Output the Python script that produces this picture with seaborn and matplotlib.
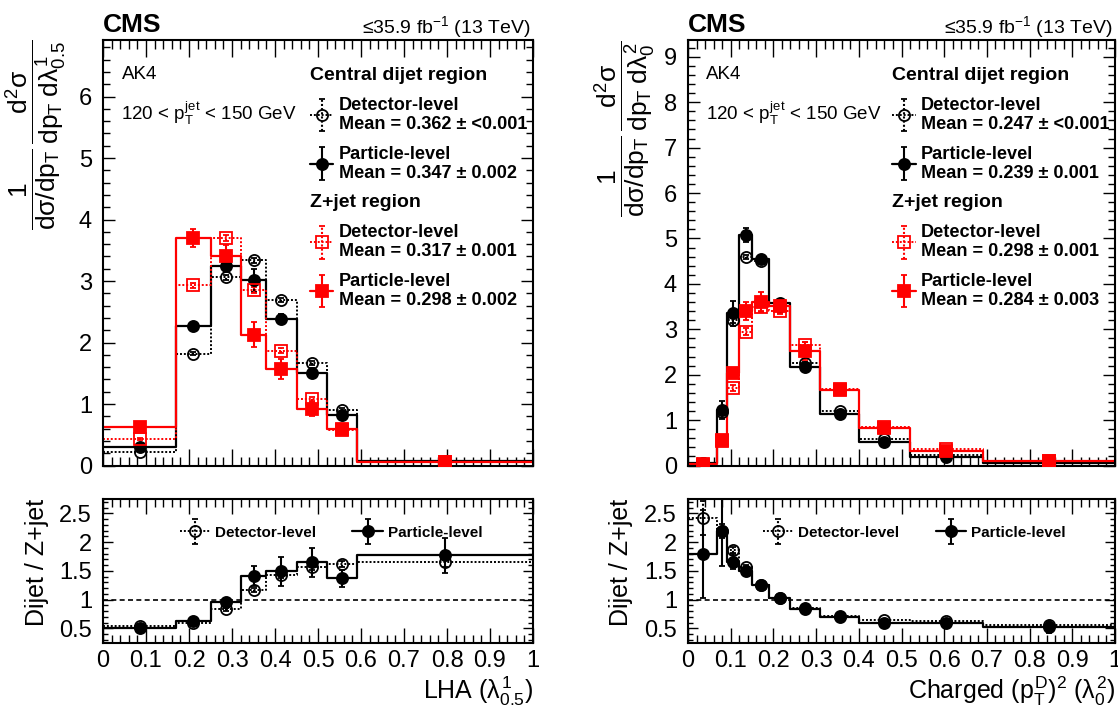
import numpy as np
import matplotlib
matplotlib.use("Agg")
import matplotlib.pyplot as plt
import seaborn as sns
from matplotlib.ticker import MultipleLocator, FuncFormatter
from matplotlib.legend_handler import HandlerErrorbar, HandlerTuple
from matplotlib.container import ErrorbarContainer

# ------------------------------------------------------------------ data
# LHA (lambda^1_0.5)
lha_edges = [0.0, 0.17, 0.25, 0.32, 0.38, 0.45, 0.52, 0.59, 1.0]
lha_dijet_det = [0.225, 1.82, 3.06, 3.34, 2.69, 1.67, 0.91, 0.08]
lha_dijet_det_err = [0.01, 0.03, 0.04, 0.04, 0.03, 0.03, 0.02, 0.005]
lha_dijet_part = [0.306, 2.27, 3.24, 3.01, 2.38, 1.51, 0.82, 0.07]
lha_dijet_part_err = [0.02, 0.05, 0.10, 0.19, 0.08, 0.08, 0.04, 0.01]
lha_z_det = [0.43, 2.93, 3.70, 2.85, 1.87, 1.08, 0.58, 0.06]
lha_z_det_err = [0.02, 0.04, 0.05, 0.05, 0.04, 0.03, 0.02, 0.005]
lha_z_part = [0.62, 3.70, 3.41, 2.13, 1.57, 0.92, 0.59, 0.05]
lha_z_part_err = [0.03, 0.15, 0.18, 0.20, 0.17, 0.12, 0.06, 0.01]
lha_ratio_det = [0.54, 0.60, 0.83, 1.17, 1.42, 1.57, 1.62, 1.66]
lha_ratio_det_err = [0.02, 0.02, 0.03, 0.04, 0.05, 0.06, 0.05, 0.10]
lha_ratio_part = [0.51, 0.62, 0.95, 1.41, 1.49, 1.65, 1.37, 1.77]
lha_ratio_part_err = [0.03, 0.04, 0.06, 0.18, 0.25, 0.25, 0.15, 0.30]
lha_means = ["Mean = 0.362 \u00b1 <0.001", "Mean = 0.347 \u00b1 0.002",
             "Mean = 0.317 \u00b1 0.001", "Mean = 0.298 \u00b1 0.002"]

# Charged (pTD)^2 (lambda^2_0)
ptd_edges = [0.0, 0.068, 0.092, 0.12, 0.15, 0.19, 0.24, 0.31, 0.40, 0.52, 0.69, 1.0]
ptd_dijet_det = [0.05, 1.18, 3.20, 4.59, 4.51, 3.51, 2.25, 1.21, 0.58, 0.23, 0.06]
ptd_dijet_det_err = [0.01, 0.05, 0.06, 0.05, 0.04, 0.03, 0.02, 0.02, 0.01, 0.01, 0.005]
ptd_dijet_part = [0.055, 1.22, 3.35, 5.08, 4.54, 3.57, 2.16, 1.13, 0.51, 0.19, 0.05]
ptd_dijet_part_err = [0.02, 0.20, 0.27, 0.15, 0.08, 0.10, 0.05, 0.04, 0.02, 0.01, 0.01]
ptd_z_det = [0.02, 0.55, 1.71, 2.95, 3.50, 3.41, 2.65, 1.68, 0.85, 0.36, 0.10]
ptd_z_det_err = [0.01, 0.04, 0.06, 0.08, 0.10, 0.08, 0.07, 0.04, 0.03, 0.01, 0.005]
ptd_z_part = [0.03, 0.56, 2.04, 3.40, 3.61, 3.51, 2.53, 1.66, 0.83, 0.33, 0.09]
ptd_z_part_err = [0.01, 0.06, 0.10, 0.20, 0.22, 0.15, 0.20, 0.08, 0.05, 0.02, 0.01]
ptd_ratio_det = [2.42, 2.20, 1.86, 1.57, 1.26, 1.03, 0.86, 0.71, 0.64, 0.62, 0.55]
ptd_ratio_det_err = [0.30, 0.12, 0.05, 0.03, 0.02, 0.02, 0.02, 0.02, 0.02, 0.02, 0.05]
ptd_ratio_part = [1.79, 2.19, 1.66, 1.49, 1.26, 1.03, 0.84, 0.69, 0.60, 0.60, 0.52]
ptd_ratio_part_err = [0.77, 0.60, 0.13, 0.06, 0.04, 0.03, 0.03, 0.03, 0.03, 0.04, 0.10]
ptd_means = ["Mean = 0.247 \u00b1 <0.001", "Mean = 0.239 \u00b1 0.001",
             "Mean = 0.298 \u00b1 0.001", "Mean = 0.284 \u00b1 0.003"]

# ------------------------------------------------------------------ style
sns.set_theme(style="ticks")
plt.rcParams.update({
    "mathtext.fontset": "custom",
    "mathtext.rm": "Liberation Sans",
    "mathtext.it": "Liberation Sans",
    "mathtext.sf": "Liberation Sans",
    "mathtext.bf": "Liberation Sans:bold",
    "axes.linewidth": 1.5,
    "axes.edgecolor": "black",
    "xtick.color": "black",
    "ytick.color": "black",
    "axes.labelcolor": "black",
    "text.color": "black",
})
plt.rcParams["font.family"] = ["Liberation Sans", "DejaVu Sans"]

W, H = 1118, 706
fig = plt.figure(figsize=(W / 100, H / 100), dpi=100)
fig.patch.set_facecolor("white")


def box(x0, x1, ytop, ybot):
    return [x0 / W, 1 - ybot / H, (x1 - x0) / W, (ybot - ytop) / H]


axL = fig.add_axes(box(103, 533, 40, 465.5))
axLr = fig.add_axes(box(103, 533, 499, 642.7))
axR = fig.add_axes(box(688, 1115, 40, 465.5))
axRr = fig.add_axes(box(688, 1115, 499, 642.7))

RED = "#ff0000"
BLK = "black"
DOT = (0, (1.0, 1.0))
fmt_g = FuncFormatter(lambda v, p: f"{v:g}")


def draw_series(ax, edges, vals, errs, color, dotted, marker, filled, ms):
    edges = np.asarray(edges, float)
    vals = np.asarray(vals, float)
    centers = 0.5 * (edges[:-1] + edges[1:])
    sns.lineplot(x=edges, y=np.append(vals, vals[-1]), drawstyle="steps-post",
                 color=color, linestyle=DOT if dotted else "-",
                 linewidth=1.4 if dotted else 1.6,
                 ax=ax, legend=False, estimator=None, sort=False, zorder=2)
    line = ax.lines[-1]
    eb = ax.errorbar(centers, vals, yerr=errs, fmt=marker, color=color,
                     mfc=color if filled else "none", mec=color, mew=1.3, ms=ms,
                     elinewidth=1.5, capsize=2.5, capthick=1.2, zorder=4)
    if dotted:
        for c in eb.lines[2]:
            c.set_linestyle(DOT)
    return (line, eb)


def style_axes(ax, ratio):
    ax.set_xlim(0, 1)
    ax.xaxis.set_major_locator(MultipleLocator(0.1))
    ax.xaxis.set_minor_locator(MultipleLocator(0.02))
    ax.tick_params(which="both", direction="in", top=True, right=True,
                   labelsize=17, width=1.0, colors="black")
    if ratio:
        ax.yaxis.set_major_locator(MultipleLocator(0.5))
        ax.yaxis.set_minor_locator(MultipleLocator(0.1))
        ax.tick_params(axis="x", which="major", length=11, pad=5)
        ax.tick_params(axis="x", which="minor", length=5.5)
        ax.tick_params(axis="y", which="major", length=7, pad=8)
        ax.tick_params(axis="y", which="minor", length=3.5)
    else:
        ax.yaxis.set_major_locator(MultipleLocator(1))
        ax.yaxis.set_minor_locator(MultipleLocator(0.2))
        ax.tick_params(axis="x", which="major", length=12, labelbottom=False)
        ax.tick_params(axis="x", which="minor", length=6.5)
        ax.tick_params(axis="y", which="major", length=8.5, pad=8)
        ax.tick_params(axis="y", which="minor", length=5)
    ax.xaxis.set_major_formatter(fmt_g)
    ax.yaxis.set_major_formatter(fmt_g)
    for s in ax.spines.values():
        s.set_linewidth(1.5)
        s.set_color("black")


hmap_main = {ErrorbarContainer: HandlerErrorbar(xerr_size=0.5, yerr_size=0.9),
             tuple: HandlerTuple(ndivide=1, pad=0)}
hmap_ratio = {ErrorbarContainer: HandlerErrorbar(xerr_size=0.5, yerr_size=0.8),
              tuple: HandlerTuple(ndivide=1, pad=0)}


def main_panel(ax, edges, dd, dde, dp, dpe, zd, zde, zp, zpe, means, ylim,
               ylabel, leg_x):
    h1 = draw_series(ax, edges, dd, dde, BLK, True, "o", False, 8)
    h2 = draw_series(ax, edges, dp, dpe, BLK, False, "o", True, 8)
    h3 = draw_series(ax, edges, zd, zde, RED, True, "s", False, 8)
    h4 = draw_series(ax, edges, zp, zpe, RED, False, "s", True, 9)
    ax.set_ylim(*ylim)
    style_axes(ax, False)
    common = dict(loc="upper left", frameon=False, borderpad=0, borderaxespad=0,
                  prop={"weight": "bold", "size": 13.1},
                  title_fontproperties={"weight": "bold", "size": 14},
                  handlelength=1.3, handletextpad=0.3, labelspacing=0.72,
                  handler_map=hmap_main)
    leg1 = ax.legend(handles=[h1, h2],
                     labels=["Detector-level\n" + means[0], "Particle-level\n" + means[1]],
                     title="Central dijet region", bbox_to_anchor=(leg_x, 0.937), **common)
    leg1._legend_box.align = "left"
    for t in leg1.get_texts():
        t.set_linespacing(1.14)
    ax.add_artist(leg1)
    leg2 = ax.legend(handles=[h3, h4],
                     labels=["Detector-level\n" + means[2], "Particle-level\n" + means[3]],
                     title="Z+jet region", bbox_to_anchor=(leg_x, 0.638), **common)
    leg2._legend_box.align = "left"
    for t in leg2.get_texts():
        t.set_linespacing(1.14)
    ax.text(0.043, 0.920, "AK4", transform=ax.transAxes, fontsize=13.5,
            ha="left", va="center")
    ax.text(0.043, 0.828, r"120 < $p_{\mathrm{T}}^{\mathrm{jet}}$ < 150 GeV",
            transform=ax.transAxes, fontsize=13.5, ha="left", va="center")
    ax.text(0.0, 1.019, "CMS", transform=ax.transAxes, fontsize=19,
            fontweight="bold", ha="left", va="baseline")
    ax.text(0.995, 1.017, "\u2264" + r"35.9 fb$^{-1}$ (13 TeV)", transform=ax.transAxes,
            fontsize=14, ha="right", va="baseline")
    ax.set_ylabel(ylabel, fontsize=19, loc="top")
    ax.set_xlabel("")


def ratio_panel(ax, edges, rd, rde, rp, rpe, xlabel):
    ax.axhline(1.0, color="black", lw=1.2, ls=(0, (3, 2)), zorder=1)
    h1 = draw_series(ax, edges, rd, rde, BLK, True, "o", False, 8)
    h2 = draw_series(ax, edges, rp, rpe, BLK, False, "o", True, 8)
    ax.set_ylim(0.25, 2.75)
    style_axes(ax, True)
    ax.legend(handles=[h1, h2], labels=["Detector-level", "Particle-level"],
              loc="center", bbox_to_anchor=(0.53, 0.765), ncol=2, frameon=False,
              prop={"weight": "bold", "size": 11}, handlelength=2.0,
              handletextpad=0.3, columnspacing=2.4, borderpad=0,
              handler_map=hmap_ratio)
    ax.set_ylabel("Dijet / Z+jet", fontsize=18, loc="top")
    ax.set_xlabel(xlabel, fontsize=18, loc="right")


main_panel(axL, lha_edges, lha_dijet_det, lha_dijet_det_err, lha_dijet_part,
           lha_dijet_part_err, lha_z_det, lha_z_det_err, lha_z_part, lha_z_part_err,
           lha_means, (0, 6.92),
           r"$\dfrac{1}{\mathrm{d}\sigma/\mathrm{d}p_{\mathrm{T}}}\,"
           r"\dfrac{\mathrm{d}^{2}\sigma}{\mathrm{d}p_{\mathrm{T}}\;\mathrm{d}\lambda^{1}_{0.5}}$",
           0.481)
main_panel(axR, ptd_edges, ptd_dijet_det, ptd_dijet_det_err, ptd_dijet_part,
           ptd_dijet_part_err, ptd_z_det, ptd_z_det_err, ptd_z_part, ptd_z_part_err,
           ptd_means, (0, 9.37),
           r"$\dfrac{1}{\mathrm{d}\sigma/\mathrm{d}p_{\mathrm{T}}}\,"
           r"\dfrac{\mathrm{d}^{2}\sigma}{\mathrm{d}p_{\mathrm{T}}\;\mathrm{d}\lambda^{2}_{0}}$",
           0.478)
ratio_panel(axLr, lha_edges, lha_ratio_det, lha_ratio_det_err, lha_ratio_part,
            lha_ratio_part_err, r"LHA ($\lambda^{1}_{0.5}$)")
ratio_panel(axRr, ptd_edges, ptd_ratio_det, ptd_ratio_det_err, ptd_ratio_part,
            ptd_ratio_part_err,
            r"Charged ($p_{\mathrm{T}}^{\mathrm{D}}$)$^{2}$ ($\lambda^{2}_{0}$)")

axL.yaxis.set_label_coords(-0.081, 1.0)
axR.yaxis.set_label_coords(-0.073, 1.0)
axLr.yaxis.set_label_coords(-0.126, 1.0)
axRr.yaxis.set_label_coords(-0.129, 1.0)
axLr.xaxis.set_label_coords(1.0, -0.22)
axRr.xaxis.set_label_coords(1.0, -0.22)

fig.savefig("out.png", dpi=100, facecolor="white")
